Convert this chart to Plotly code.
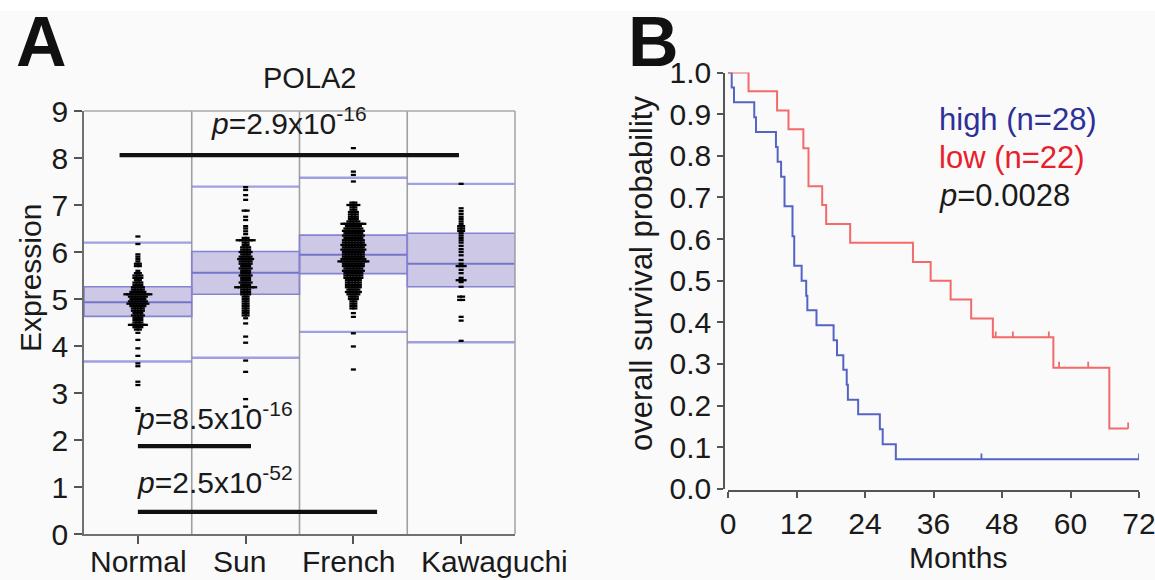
import numpy as np
import plotly.graph_objects as go

W, H = 1155, 580
FONT = "Liberation Sans, Arial, Helvetica, sans-serif"

# ---------------- Panel A data ----------------
groups = ["Normal", "Sun", "French", "Kawaguchi"]
group_label_shift = [1, -6, -5, 33]   # px offset of each category label (as in the reference)
q1 = [4.63, 5.10, 5.54, 5.26]
med = [4.93, 5.56, 5.94, 5.75]
q3 = [5.26, 6.01, 6.36, 6.40]
low_wh = [3.67, 3.75, 4.30, 4.08]
high_wh = [6.20, 7.39, 7.58, 7.45]

normal_levels = [6.33, 6.17, 5.95, 5.9, 5.85, 5.8, 5.75, 5.7, 5.6, 5.55, 5.5, 5.45, 5.4, 5.35, 5.3,
                 5.25, 5.2, 5.15, 5.1, 5.05, 5.0, 4.95, 4.9, 4.85, 4.8, 4.75, 4.7, 4.65, 4.6, 4.55,
                 4.5, 4.45, 4.4, 4.35, 4.28, 4.13, 3.95, 3.79, 3.63, 3.57, 3.24, 3.17, 2.68, 2.62]
normal_counts = [1, 1, 1, 1, 1, 1, 2, 2, 1, 2, 3, 3, 2, 3, 3,
                 4, 4, 5, 9, 6, 5, 6, 7, 5, 4, 4, 3, 4, 3, 3,
                 3, 6, 3, 2, 1, 1, 1, 1, 1, 1, 1, 1, 1, 1]

sun_levels = [7.38, 7.32, 7.21, 7.11, 6.88, 6.75, 6.68, 6.55, 6.5, 6.44, 6.38, 6.3, 6.25, 6.2,
              6.15, 6.1, 6.05, 6.0, 5.95, 5.9, 5.85, 5.8, 5.75, 5.7, 5.65, 5.6, 5.55, 5.5, 5.45,
              5.4, 5.35, 5.3, 5.25, 5.2, 5.15, 5.1, 5.05, 5.0, 4.95, 4.9, 4.85, 4.8, 4.75, 4.7,
              4.65, 4.59, 4.48, 4.2, 4.07, 3.69, 3.45, 2.87, 2.71]
sun_counts = [1, 1, 1, 1, 2, 1, 1, 1, 1, 1, 1, 2, 6, 2,
              2, 3, 3, 4, 3, 4, 5, 4, 4, 3, 4, 3, 3, 4, 3,
              3, 4, 3, 7, 3, 3, 3, 2, 2, 2, 2, 2, 2, 2, 2,
              2, 1, 1, 1, 1, 1, 1, 1, 1]

french_levels = [8.21, 7.71, 7.64, 7.5, 7.05, 7.0, 6.95, 6.9, 6.85, 6.8, 6.75, 6.7, 6.65, 6.6,
                 6.55, 6.5, 6.45, 6.4, 6.35, 6.3, 6.25, 6.2, 6.15, 6.1, 6.05, 6.0, 5.95, 5.9,
                 5.85, 5.8, 5.75, 5.7, 5.65, 5.6, 5.55, 5.5, 5.45, 5.4, 5.35, 5.3, 5.25, 5.2,
                 5.15, 5.1, 5.05, 5.0, 4.95, 4.9, 4.85, 4.8, 4.7, 4.62, 4.27, 3.99, 3.5]
french_counts = [1, 1, 1, 1, 2, 4, 2, 2, 3, 3, 3, 3, 4, 8,
                 5, 6, 7, 6, 7, 6, 7, 7, 8, 7, 8, 7, 7, 7,
                 8, 10, 7, 7, 6, 7, 6, 6, 6, 5, 5, 5, 5, 4,
                 5, 4, 3, 3, 2, 2, 2, 2, 1, 1, 1, 1, 1]

kawa_levels = [7.45, 6.93, 6.87, 6.81, 6.75, 6.7, 6.65, 6.6, 6.55, 6.5, 6.45, 6.4, 6.35, 6.3,
               6.25, 6.2, 6.13, 6.06, 6.0, 5.93, 5.83, 5.75, 5.7, 5.62, 5.55, 5.45, 5.4, 5.36,
               5.26, 5.05, 4.98, 4.62, 4.54, 4.11]
kawa_counts = [1, 1, 1, 1, 1, 1, 1, 1, 2, 2, 2, 1, 1, 1,
               1, 1, 1, 1, 1, 1, 1, 1, 3, 1, 1, 1, 3, 1,
               1, 2, 2, 1, 1, 1]

group_levels = [normal_levels, sun_levels, french_levels, kawa_levels]
group_counts = [normal_counts, sun_counts, french_counts, kawa_counts]

sig_x0 = [-0.17, 0.0, 0.0]
sig_x1 = [2.98, 1.05, 2.22]
sig_y = [8.06, 1.87, 0.47]
sig_text = ["<i>p</i>=2.9x10<sup>-16</sup>", "<i>p</i>=8.5x10<sup>-16</sup>",
            "<i>p</i>=2.5x10<sup>-52</sup>"]
sig_lx = [1.4, -0.03, -0.03]
sig_ly = [8.78, 2.52, 1.15]
sig_anchor = ["center", "left", "left"]

# ---------------- Panel B data ----------------
high_t = [0, 0.65, 1.05, 4.6, 4.9, 8.4, 8.7, 9.3, 9.9, 11.3, 11.6, 12.9, 13.7, 13.9, 15.5,
          18.5, 19.1, 20.2, 20.8, 21.0, 22.8, 26.6, 27.1, 29.4, 72]
high_s = [1, 0.964, 0.929, 0.893, 0.857, 0.821, 0.786, 0.75, 0.679, 0.607, 0.536, 0.5, 0.464,
          0.429, 0.393, 0.357, 0.321, 0.286, 0.25, 0.214, 0.179, 0.143, 0.107, 0.071, 0.071]
high_cens = [44.4, 72]

low_t = [0, 3.6, 8.6, 10.6, 13.2, 14.1, 16.5, 17.2, 21.4, 32.4, 35.5, 39.0, 42.6, 46.4, 57.0,
         66.8, 70.1]
low_s = [1, 0.955, 0.909, 0.864, 0.818, 0.727, 0.682, 0.636, 0.591, 0.545, 0.5, 0.455, 0.409,
         0.364, 0.291, 0.145, 0.145]
low_cens = [46.9, 49.9, 56.2, 58.0, 63.1, 70.1]

x_ticks_b = [0, 12, 24, 36, 48, 60, 72]

BLUE_LINE = "#5464c4"
RED_LINE = "#f26a6a"
BLUE_TXT = "#2e2f98"
RED_TXT = "#e8202a"


def px_x(p):
    return p / W


def px_y(p):
    return 1 - p / H


fig = go.Figure()

# ---- Panel A geometry ----
xa_dom = [px_x(84), px_x(515)]
ya_dom = [px_y(534), px_y(111)]
col_px = (515 - 84) / 4.0
spacing = 3.0 / col_px

shapes = []
# white strip on top
shapes.append(dict(type="rect", xref="paper", yref="paper", x0=0, x1=1, y0=px_y(11), y1=1,
                   fillcolor="white", line=dict(width=0), layer="below"))

for i in range(len(groups)):
    shapes.append(dict(type="rect", xref="x", yref="y", x0=i - 0.5, x1=i + 0.5, y0=q1[i], y1=q3[i],
                       fillcolor="rgba(150,140,205,0.45)", line=dict(color="#8484d2", width=1.6),
                       layer="below"))
    shapes.append(dict(type="line", xref="x", yref="y", x0=i - 0.5, x1=i + 0.5, y0=med[i], y1=med[i],
                       line=dict(color="#7474c8", width=2), layer="below"))
    for v in (low_wh[i], high_wh[i]):
        shapes.append(dict(type="line", xref="x", yref="y", x0=i - 0.5, x1=i + 0.5, y0=v, y1=v,
                           line=dict(color="rgba(130,130,215,0.75)", width=2.4), layer="below"))
for i in range(len(groups) - 1):
    shapes.append(dict(type="line", xref="x", yref="y domain", x0=i + 0.5, x1=i + 0.5, y0=0, y1=1,
                       line=dict(color="#a0a0a0", width=1.6), layer="below"))
# top and right frame
shapes.append(dict(type="line", xref="x domain", yref="y domain", x0=0, x1=1, y0=1, y1=1,
                   line=dict(color="#a8a8a8", width=1.6)))
shapes.append(dict(type="line", xref="x domain", yref="y domain", x0=1, x1=1, y0=0, y1=1,
                   line=dict(color="#a8a8a8", width=1.6)))

# swarm points
for i in range(len(groups)):
    xs, ys = [], []
    for v, c in zip(group_levels[i], group_counts[i]):
        for k in range(c):
            xs.append(i + (k - (c - 1) / 2.0) * spacing)
            ys.append(v)
    fig.add_trace(go.Scatter(x=xs, y=ys, mode="markers", xaxis="x", yaxis="y", showlegend=False,
                             hoverinfo="skip",
                             marker=dict(symbol="line-ew", size=3.6, color="black",
                                         line=dict(width=2.3, color="black"))))

# significance bars
for j in range(len(sig_y)):
    fig.add_trace(go.Scatter(x=[sig_x0[j], sig_x1[j]], y=[sig_y[j], sig_y[j]], mode="lines",
                             xaxis="x", yaxis="y", showlegend=False, hoverinfo="skip",
                             line=dict(color="#111111", width=4.2)))

annotations = []
for j in range(len(sig_y)):
    annotations.append(dict(x=sig_lx[j], y=sig_ly[j], xref="x", yref="y", text=sig_text[j],
                            showarrow=False, xanchor=sig_anchor[j], yanchor="middle",
                            font=dict(size=30, color="#1a1a1a", family=FONT)))

# category labels of panel A (drawn as annotations so each can be nudged like the reference)
for i, g in enumerate(groups):
    annotations.append(dict(x=i, y=px_y(561), xref="x", yref="paper", text=g, showarrow=False,
                            xanchor="center", yanchor="middle", xshift=group_label_shift[i],
                            font=dict(size=30, color="#1a1a1a", family=FONT)))

annotations += [
    dict(x=px_x(14), y=px_y(42), xref="paper", yref="paper", text="<b>A</b>", showarrow=False,
         xanchor="left", yanchor="middle", font=dict(size=70, color="#111111", family=FONT)),
    dict(x=px_x(310), y=px_y(78), xref="paper", yref="paper", text="POLA2", showarrow=False,
         xanchor="center", yanchor="middle", font=dict(size=29, color="#1a1a1a", family=FONT)),
    dict(x=px_x(30), y=px_y(278), xref="paper", yref="paper", text="Expression", showarrow=False,
         textangle=-90, xanchor="center", yanchor="middle",
         font=dict(size=30, color="#1a1a1a", family=FONT)),
    dict(x=px_x(626), y=px_y(42), xref="paper", yref="paper", text="<b>B</b>", showarrow=False,
         xanchor="left", yanchor="middle", font=dict(size=70, color="#111111", family=FONT)),
    dict(x=px_x(642), y=px_y(274), xref="paper", yref="paper", text="overall survival probability",
         showarrow=False, textangle=-90, xanchor="center", yanchor="middle",
         font=dict(size=31, color="#1a1a1a", family=FONT)),
    dict(x=px_x(958), y=px_y(557), xref="paper", yref="paper", text="Months", showarrow=False,
         xanchor="center", yanchor="middle", font=dict(size=30, color="#1a1a1a", family=FONT)),
    dict(x=px_x(937), y=px_y(119), xref="paper", yref="paper", text="high (n=28)", showarrow=False,
         xanchor="left", yanchor="middle", font=dict(size=31, color=BLUE_TXT, family=FONT)),
    dict(x=px_x(937), y=px_y(157), xref="paper", yref="paper", text="low (n=22)", showarrow=False,
         xanchor="left", yanchor="middle", font=dict(size=31, color=RED_TXT, family=FONT)),
    dict(x=px_x(937), y=px_y(195), xref="paper", yref="paper", text="<i>p</i>=0.0028",
         showarrow=False, xanchor="left", yanchor="middle",
         font=dict(size=31, color="#1a1a1a", family=FONT)),
]

# ---- Panel B traces ----
for t, s, cens, col in ((high_t, high_s, high_cens, BLUE_LINE), (low_t, low_s, low_cens, RED_LINE)):
    fig.add_trace(go.Scatter(x=t, y=s, mode="lines", line_shape="hv", xaxis="x2", yaxis="y2",
                             showlegend=False, hoverinfo="skip", line=dict(color=col, width=2)))
    t_arr = np.array(t)
    s_arr = np.array(s)
    idx = np.searchsorted(t_arr, np.array(cens), side="right") - 1
    cy = s_arr[idx]
    n = len(cens)
    fig.add_trace(go.Scatter(x=cens, y=cy, mode="markers", xaxis="x2", yaxis="y2", showlegend=False,
                             hoverinfo="skip", marker=dict(size=1, color=col),
                             error_y=dict(type="data", symmetric=False, array=[0.014] * n,
                                          arrayminus=[0] * n, width=0, thickness=1.8, color=col)))

tickfont = dict(size=30, color="#1a1a1a", family=FONT)

fig.update_layout(
    width=W, height=H, margin=dict(l=0, r=0, t=0, b=0, autoexpand=False),
    paper_bgcolor="#fafafa", plot_bgcolor="rgba(0,0,0,0)",
    font=dict(family=FONT, color="#1a1a1a"),
    shapes=shapes, annotations=annotations,
    xaxis=dict(domain=xa_dom, range=[-0.5, 3.5], tickvals=list(range(len(groups))),
               ticktext=[""] * len(groups),
               showgrid=False, zeroline=False, showline=True, linecolor="#707070", linewidth=1.6,
               ticks="outside", ticklen=8, tickwidth=1.5, tickcolor="#555555", tickfont=tickfont,
               anchor="y", fixedrange=True, automargin=False, tickangle=0),
    yaxis=dict(domain=ya_dom, range=[0, 9], tickvals=list(range(10)), showgrid=False, zeroline=False,
               showline=True, linecolor="#707070", linewidth=1.6, ticks="outside", ticklen=8,
               tickwidth=1.5, tickcolor="#555555", tickfont=tickfont, anchor="x", fixedrange=True,
               automargin=False, ticklabelstandoff=0),
    xaxis2=dict(domain=[px_x(728), px_x(1139)], range=[0, 72], tickvals=x_ticks_b, showgrid=False,
                zeroline=False, showline=True, linecolor="#555555", linewidth=1.6, ticks="outside",
                ticklen=6, tickwidth=1.5, tickcolor="#555555", tickfont=tickfont, anchor="free",
                position=px_y(491), ticklabelstandoff=0, automargin=False, tickangle=0,
                ticklabeloverflow="allow", fixedrange=True),
    yaxis2=dict(domain=[px_y(488.8), px_y(72.6)], range=[0, 1], dtick=0.1, tickformat=".1f",
                showgrid=False, zeroline=False, showline=True, linecolor="#555555", linewidth=1.6,
                ticks="outside", ticklen=6, tickwidth=1.5, tickcolor="#555555", tickfont=tickfont,
                anchor="free", position=px_x(724), automargin=False, fixedrange=True),
)

fig.write_html("out.html", config={"displayModeBar": False},
               post_script="document.body.style.margin='0';document.body.style.overflow='hidden';")
